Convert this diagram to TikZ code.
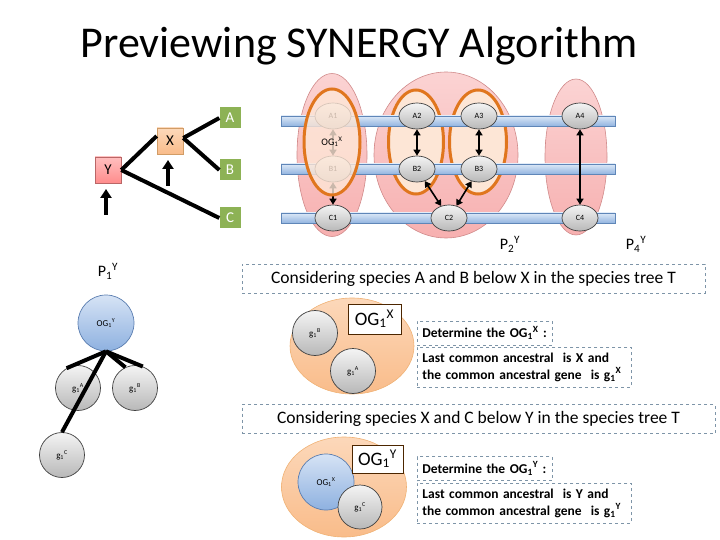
\documentclass[tikz,border=0pt]{standalone}
\usepackage{fontspec}
\setmainfont{Carlito}
\usetikzlibrary{shapes.geometric,arrows.meta}
\definecolor{pinkfill}{HTML}{F7B0B0}
\definecolor{pinktop}{HTML}{FBD3D3}
\definecolor{pinkline}{HTML}{D08A8A}
\definecolor{orgline}{HTML}{E0761E}
\definecolor{peach}{HTML}{FDE6D6}
\definecolor{bartop}{HTML}{DCE8F7}
\definecolor{barbot}{HTML}{93B5E0}
\definecolor{barline}{HTML}{5F86B8}
\definecolor{grtop}{HTML}{F4F4F4}
\definecolor{grbot}{HTML}{B8B8B8}
\definecolor{bltop}{HTML}{D6E3F5}
\definecolor{blbot}{HTML}{8EB1E0}
\definecolor{blline}{HTML}{5A7DB0}
\definecolor{greenbox}{HTML}{8DB255}
\definecolor{ortop}{HTML}{FCD8BA}
\definecolor{orbot}{HTML}{F9BC8A}
\definecolor{dashc}{HTML}{7E95A8}
\newcommand{\subsup}[3]{#1\textsubscript{#2}\textsuperscript{#3}}
\tikzset{
  pinkell/.style={ellipse, draw=pinkline, line width=0.6pt, top color=pinktop, bottom color=pinkfill},
  orgell/.style={ellipse, draw=orgline, line width=3pt, fill=peach},
  barbox/.style={rectangle, draw=barline, line width=0.6pt, top color=bartop, bottom color=barbot, minimum width=334pt, minimum height=10pt, inner sep=0pt},
  gnode/.style={ellipse, draw=black!75, line width=0.7pt, top color=grtop, bottom color=grbot, minimum width=36pt, minimum height=26pt, inner sep=0pt, font=\fontsize{8}{9}\selectfont},
  gcirc/.style={circle, draw=black!75, line width=0.7pt, top color=grtop, bottom color=grbot, minimum size=45pt, inner sep=0pt, font=\fontsize{9}{10}\selectfont},
  bcirc/.style={circle, draw=blline, line width=0.7pt, top color=bltop, bottom color=blbot, inner sep=0pt, font=\fontsize{9}{10}\selectfont},
  garrow/.style={{Triangle[length=6pt,width=7pt]}-{Triangle[length=6pt,width=7pt]}, line width=1.6pt, black},
  treeline/.style={line width=4pt, black},
  uparr/.style={-{Triangle[length=9pt,width=11pt]}, line width=3.5pt, black},
  gbox/.style={rectangle, fill=greenbox, text=white, minimum size=21pt, inner sep=0pt, font=\fontsize{15}{16}\selectfont},
  dbox/.style={rectangle, draw=dashc, dashed, line width=0.8pt, inner sep=3pt},
  wbox/.style={rectangle, draw=black!70!orange, fill=white, line width=0.8pt, inner sep=0pt, font=\fontsize{19}{20}\selectfont},
  orcirc/.style={ellipse, draw=orange!60!brown!60, line width=0.6pt, top color=ortop, bottom color=orbot},
  plabel/.style={font=\fontsize{16}{17}\selectfont},
  btext/.style={font=\bfseries\fontsize{13.5}{17}\selectfont, align=left, inner xsep=5pt},
  ctext/.style={font=\fontsize{17.5}{19}\selectfont}
}
\begin{document}
\begin{tikzpicture}[x=1pt,y=-1pt]
\useasboundingbox (0,0) rectangle (720,540);
\node (title) at (359,46) {\fontsize{44}{48}\selectfont Previewing SYNERGY Algorithm};

% species tree
\node[rectangle, draw=red!55!black!60, line width=0.6pt, top color=red!25, bottom color=red!45, minimum size=26pt, inner sep=0pt, font=\fontsize{15}{16}\selectfont] (Y) at (108,170) {Y};
\node[rectangle, draw=orange!70!black!60, line width=0.6pt, top color=ortop, bottom color=orbot, minimum size=26pt, inner sep=0pt, font=\fontsize{15}{16}\selectfont] (X) at (170,141) {X};
\node[gbox] (A) at (230,118) {A};
\node[gbox] (B) at (230,170) {B};
\node[gbox] (C) at (230,218) {C};
\draw[treeline] (Y.east) -- ([yshift=5pt]X.west);
\draw[treeline] (Y.east) -- (C.west);
\draw[treeline] ([yshift=3pt]X.east) -- (A.west);
\draw[treeline] ([yshift=3pt]X.east) -- (B.west);
\coordinate (xa0) at (168,186);
\coordinate (xa1) at (168,160);
\coordinate (ya0) at (106,215);
\coordinate (ya1) at (106,189);
\draw[uparr] (xa0) -- (xa1);
\draw[uparr] (ya0) -- (ya1);

% gene partitions
\node[pinkell, minimum width=70pt, minimum height=163pt] (P1) at (332,155) {};
\node[pinkell, minimum width=144pt, minimum height=166pt] (P2) at (446,155) {};
\node[pinkell, minimum width=62pt, minimum height=156pt] (P4) at (576,157) {};
\node[orgell, minimum width=55pt, minimum height=104pt] (O2) at (416,142) {};
\node[orgell, minimum width=57pt, minimum height=104pt] (O3) at (478,142) {};

\node[barbox] (barA) at (448,121) {};
\node[barbox] (barB) at (448,169) {};
\node[barbox] (barC) at (448,218) {};

\node[gnode] (A1) at (333,116) {A1};
\node[gnode] (A2) at (417,116) {A2};
\node[gnode] (A3) at (479,116) {A3};
\node[gnode] (A4) at (580,116) {A4};
\node[gnode] (B1) at (333,169) {B1};
\node[gnode] (B2) at (417,169) {B2};
\node[gnode] (B3) at (479,169) {B3};
\node[gnode] (C1) at (333,218) {C1};
\node[gnode] (C2) at (449,218) {C2};
\node[gnode] (C4) at (580,218) {C4};

\draw[garrow] (A2) -- (B2);
\draw[garrow] (A3) -- (B3);
\draw[garrow] (B2) -- (C2);
\draw[garrow] (B3) -- (C2);
\draw[garrow] (A4) -- (C4);
\draw[garrow] (A1) -- (B1);
\draw[garrow] (B1) -- (C1);

\node[orgell, fill opacity=0.8, minimum width=56pt, minimum height=106pt] (O1) at (332,142) {};
\node[font=\fontsize{10}{11}\selectfont] (og1x) at (332,142) {\subsup{OG}{1}{X}};

\node[plabel] (p2) at (510,244) {\subsup{P}{2}{Y}};
\node[plabel] (p4) at (636,244) {\subsup{P}{4}{Y}};
\node[plabel] (p1) at (108,271) {\subsup{P}{1}{Y}};

% left gene tree
\node[gcirc] (gA) at (78,388) {\subsup{g}{1}{A}};
\node[gcirc] (gB) at (135,388) {\subsup{g}{1}{B}};
\node[gcirc] (gC) at (62,455) {\subsup{g}{1}{C}};
\node[bcirc, minimum size=56pt] (OGY) at (106,323) {\subsup{OG}{1}{Y}};
\draw[treeline] (OGY.south) -- (gA.120);
\draw[treeline] (OGY.south) -- (gB.115);
\draw[treeline] (OGY.south) -- (gB.70);
\draw[treeline] (OGY.south) -- (gC.north);

% step 1
\node[dbox, minimum width=463pt, minimum height=29pt, ctext] (d1) at (473.5,278.5) {Considering species A and B below X in the species tree T};
\node[orcirc, minimum width=124pt, minimum height=96pt] (oc1) at (352,346) {};
\node[gcirc] (g1B) at (315,333) {\subsup{g}{1}{B}};
\node[gcirc] (g1A) at (353,371) {\subsup{g}{1}{A}};
\node[wbox, minimum width=53pt, minimum height=30pt] (ogx) at (374.5,319) {\subsup{OG}{1}{X}};
\node[dbox, text width=125pt, minimum height=24pt, anchor=west, btext] (det1) at (417,333) {Determine the \subsup{OG}{1}{X} :};
\node[dbox, text width=204pt, minimum height=40pt, anchor=west, btext] (last1) at (417,367) {Last common ancestral\ \ is X and\\the common ancestral gene\ \ is \subsup{g}{1}{X}};

% step 2
\node[dbox, minimum width=473pt, minimum height=29pt, ctext] (d2) at (478.5,419) {Considering species X and C below Y in the species tree T};
\node[orcirc, minimum width=125pt, minimum height=100pt] (oc2) at (344,487) {};
\node[bcirc, minimum size=56pt] (ogxb) at (326,482) {\subsup{OG}{1}{X}};
\node[gcirc, minimum size=44pt] (g1C) at (360,507) {\subsup{g}{1}{C}};
\node[wbox, minimum width=51pt, minimum height=28pt] (ogy) at (377.5,459) {\subsup{OG}{1}{Y}};
\node[dbox, text width=125pt, minimum height=24pt, anchor=west, btext] (det2) at (417,468.5) {Determine the \subsup{OG}{1}{Y} :};
\node[dbox, text width=204pt, minimum height=40pt, anchor=west, btext] (last2) at (417,503) {Last common ancestral\ \ is Y and\\the common ancestral gene\ \ is \subsup{g}{1}{Y}};
\end{tikzpicture}
\end{document}
